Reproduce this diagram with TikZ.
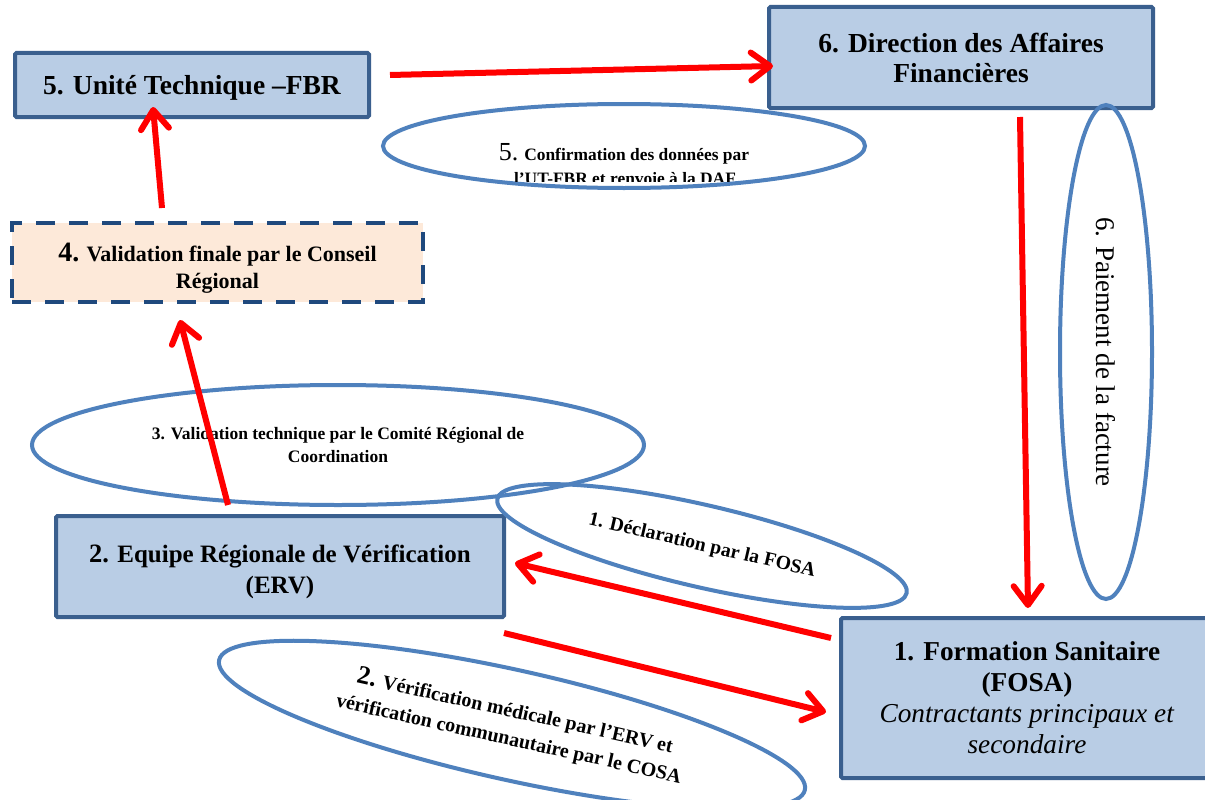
\documentclass[tikz,border=0pt]{standalone}
\usepackage{fontspec}
\setmainfont{Liberation Serif}[BoldFont={Liberation Serif Bold}, ItalicFont={Liberation Serif Italic}, BoldItalicFont={Liberation Serif Bold Italic}]
\usetikzlibrary{arrows.meta,shapes.geometric,calc}
\definecolor{boxfill}{HTML}{B9CDE5}
\definecolor{boxline}{HTML}{3A5F8E}
\definecolor{ellline}{HTML}{4F81BD}
\definecolor{peach}{HTML}{FDE9D9}
\definecolor{dashline}{HTML}{1F497D}
\definecolor{arrred}{HTML}{FF0000}
\begin{document}
\begin{tikzpicture}[x=1pt,y=-1pt,
  box/.style={draw=boxline, fill=boxfill, line width=4pt, rounded corners=1.5pt, align=center, inner sep=0pt},
  valbox/.style={draw=dashline, fill=peach, line width=4pt, dash pattern=on 19pt off 14pt, align=center, inner sep=0pt},
  oval/.style={ellipse, draw=ellline, line width=4pt, inner sep=0pt, align=center},
  flow/.style={draw=arrred, line width=6pt, -{Straight Barb[length=19pt,width=28pt,round]}},
  lbl/.style={anchor=base, inner sep=0pt, font={\fontsize{17.4}{24}\selectfont\bfseries}}
]
\fill[white] (0,0) rectangle (1205,800);
\useasboundingbox (0,0) rectangle (1205,800);

% boxes
\node[box, minimum width=354pt, minimum height=64pt, font={\fontsize{27.5}{30}\selectfont\bfseries}] (b5) at (192,85) {\rule{0pt}{25pt}5. Unité Technique –FBR};
\node[box, minimum width=384pt, minimum height=101pt, font={\fontsize{27.5}{30}\selectfont\bfseries}] (b6) at (961,57.5) {6. Direction des Affaires\\Financières};
\node[valbox, minimum width=411pt, minimum height=79pt, font={\fontsize{22}{27}\selectfont\bfseries}] (b4) at (217.5,262.5) {\rule{0pt}{29pt}{\fontsize{28}{27}\selectfont 4.} Validation finale par le Conseil\\Régional};
\node[box, minimum width=448pt, minimum height=101pt, font={\fontsize{25}{31.5}\selectfont\bfseries}] (b2) at (280,566.5) {\rule{0pt}{28pt}{\fontsize{26.5}{31.5}\selectfont 2.} Equipe Régionale de Vérification\\(ERV)};
\node[box, minimum width=372pt, minimum height=160pt, font={\fontsize{27.3}{31}\selectfont}] (b1) at (1027,698) {\textbf{1. Formation Sanitaire}\\\textbf{(FOSA)}\\\textit{Contractants principaux et}\\\textit{secondaire}};

% ovals
\node[oval, minimum width=482pt, minimum height=84pt] (e5) at (624,146) {};
\begin{scope}
  \clip (380,100) rectangle (870,181);
  \node[lbl] (t5a) at (624,160) {{\fontsize{26}{24}\selectfont\mdseries 5.} Confirmation des données par};
  \node[lbl] (t5b) at (625,184) {l’UT-FBR et renvoie à la DAF};
\end{scope}
\node[oval, minimum width=612pt, minimum height=120pt, font={\fontsize{17.5}{23}\selectfont\bfseries}] (e3) at (338,445) {3. Validation technique par le Comité Régional de\\Coordination};
\node[oval, minimum width=420pt, minimum height=82pt, rotate=-13, font={\fontsize{19.7}{24}\selectfont\bfseries}] (e1) at (702,546) {1. Déclaration par la FOSA};
\node[oval, minimum width=600pt, minimum height=110pt, rotate=-12.5, font={\fontsize{20}{28}\selectfont\bfseries}] (e2) at (512,725) {{\fontsize{26}{28}\selectfont 2.} Vérification médicale par l’ERV et\\vérification communautaire par le COSA};
\node[oval, minimum width=494pt, minimum height=92pt, rotate=-90, font={\fontsize{27}{30}\selectfont}] (e6) at (1106,352) {6. Paiement de la facture};

% flows
\draw[flow] ($(b5.east)+(19,-10)$) -- ($(b6.west)+(6,8.5)$);
\draw[flow] ($(b4.north)+(-55.5,-13)$) -- ($(b5.south)+(-39,-12)$);
\draw[flow] ($(b2.north)+(-52,-9)$) -- ($(b4.south)+(-37.5,16)$);
\draw[flow] ($(b6.south)+(59,7)$) -- ($(b1.north)+(1,-8)$);
\draw[flow] ($(b1.west)+(-8,-60)$) -- ($(b2.east)+(9,-3.5)$);
\draw[flow] ($(b2.east)+(-2,66.5)$) -- ($(b1.west)+(-13,14)$);
\end{tikzpicture}
\end{document}
